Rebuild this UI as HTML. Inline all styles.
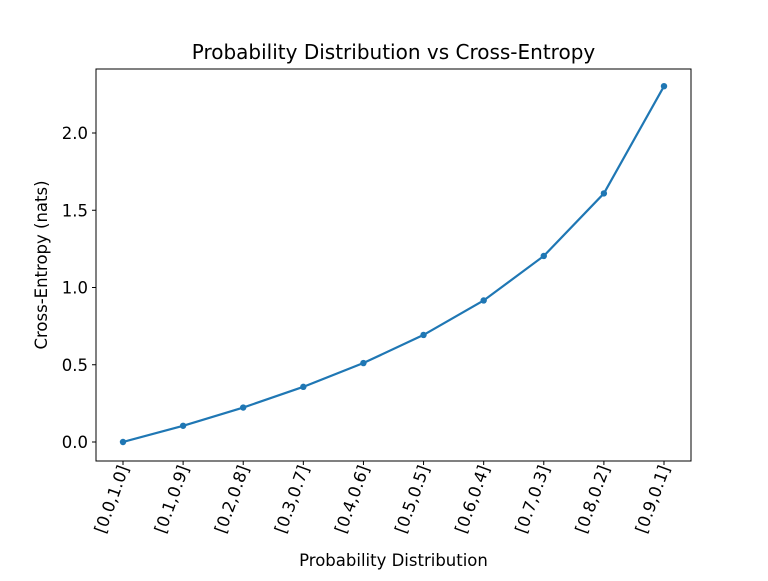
<!DOCTYPE html>
<html><head><meta charset="utf-8"><style>
body{margin:0;background:#fff}
text{font-family:"DejaVu Sans","Liberation Sans",sans-serif;fill:#000}
</style></head><body>
<svg id="chart" width="768" height="576" xmlns="http://www.w3.org/2000/svg">
<rect width="768" height="576" fill="#fff"/>
<text x="393.5" y="59" font-size="20" text-anchor="middle">Probability Distribution vs Cross-Entropy</text>
<text x="393.5" y="566" font-size="16.5" text-anchor="middle">Probability Distribution</text>
<text transform="translate(47,265) rotate(-90)" font-size="16.5" text-anchor="middle">Cross-Entropy (nats)</text>
<g id="plot"></g>
<rect x="96" y="69" width="595" height="392" fill="none" stroke="#000" stroke-width="1"/>
</svg>
<script>
const categories=["[0.0,1.0]","[0.1,0.9]","[0.2,0.8]","[0.3,0.7]","[0.4,0.6]","[0.5,0.5]","[0.6,0.4]","[0.7,0.3]","[0.8,0.2]","[0.9,0.1]"];
const values=[0.0,0.105,0.223,0.357,0.511,0.693,0.916,1.204,1.609,2.303];
const yTicks=[0.0,0.5,1.0,1.5,2.0];
const yTickLabels=["0.0","0.5","1.0","1.5","2.0"];
const NS="http://www.w3.org/2000/svg";
const g=document.getElementById('plot');
const xS=i=>123+i*(664-123)/(categories.length-1);
const yS=v=>442-v*154.5;
function mk(t,a){const e=document.createElementNS(NS,t);for(const k in a)e.setAttribute(k,a[k]);g.appendChild(e);return e;}
yTicks.forEach((v,i)=>{
 const l=mk('line',{x1:92,x2:96,y1:yS(v),y2:yS(v),stroke:'#000'});
 
 
 const t=mk('text',{x:88,y:yS(v)+6,'font-size':16.5,'text-anchor':'end'});
 t.textContent=yTickLabels[i];
 
 
});
categories.forEach((c,i)=>{
 const x=xS(i);
 const l=mk('line',{x1:x,x2:x,y1:461,y2:465,stroke:'#000'});
 
 
 const t=mk('text',{transform:`translate(${x+6},468) rotate(-70)`,'font-size':16.5,'text-anchor':'end'});
 t.textContent=c;
 
 
});
const p=mk('polyline',{points:values.map((v,i)=>xS(i)+','+yS(v)).join(' '),fill:'none',stroke:'#1f77b4','stroke-width':2.2});


values.forEach((v,i)=>{
 const c=mk('circle',{cx:xS(i),cy:yS(v),r:3.2,fill:'#1f77b4'});
 
 
});
</script>
</body></html>
